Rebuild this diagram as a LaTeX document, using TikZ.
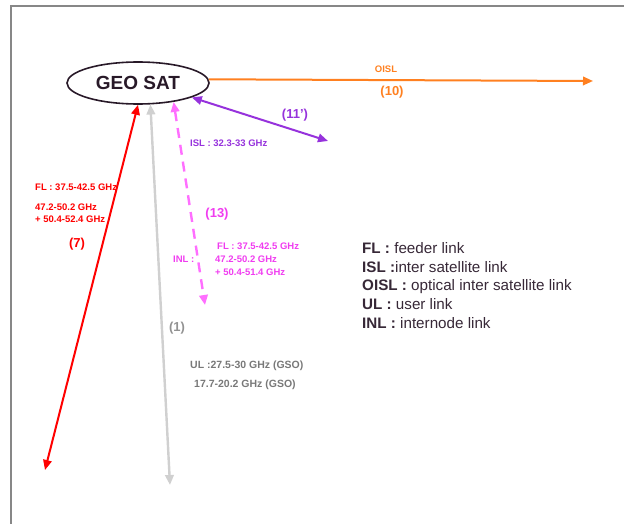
\documentclass[tikz,border=0pt]{standalone}
\usepackage{fontspec}
\setmainfont{Liberation Sans}
\usetikzlibrary{arrows.meta,positioning,shapes.geometric}
\definecolor{satdark}{RGB}{40,25,40}
\definecolor{legdark}{RGB}{55,40,55}
\definecolor{framegray}{RGB}{135,135,135}
\definecolor{oislorange}{RGB}{255,128,32}
\definecolor{islpurple}{RGB}{150,50,220}
\definecolor{inlmagenta}{RGB}{240,60,240}
\definecolor{inlline}{RGB}{255,110,255}
\definecolor{flred}{RGB}{255,0,0}
\definecolor{ulline}{RGB}{208,208,208}
\definecolor{ultext}{RGB}{120,120,120}

\begin{document}
\begin{tikzpicture}[x=1pt,y=-1pt,>={Triangle[length=10pt,width=8.5pt]},
    link/.style={line width=2pt},
    lbl/.style={font=\fontsize{9.5}{11}\selectfont\bfseries,inner sep=0pt,anchor=west},
    ullbl/.style={lbl,font=\fontsize{10.5}{12}\selectfont\bfseries,text=ultext},
    num/.style={font=\fontsize{13}{15}\selectfont\bfseries,inner sep=0pt},
    legend/.style={font=\fontsize{15.2}{17}\selectfont,text=legdark,anchor=base west,inner sep=0pt}]
   \useasboundingbox (0,0) rectangle (624,524);
   \draw[framegray,line width=2pt] (10.5,524) -- (10.5,6) -- (624,6);

   \node[ellipse,draw=satdark,line width=1.6pt,minimum width=142pt,minimum height=42pt,
         inner sep=0pt,text=satdark,font=\fontsize{19}{21}\selectfont\bfseries] (geo) at (138,83) {GEO SAT};

   \coordinate (oislend) at (593,81);
   \coordinate (islend)  at (328,141);
   \coordinate (flend)   at (45,470);
   \coordinate (ulend)   at (170,485);
   \coordinate (inlend)  at (205,305);

   % labels
   \node[lbl,text=oislorange,anchor=center] (oisltxt) at (386,69) {OISL};
   \node[num,text=oislorange] (oislnum) at (392,92) {(10)};
   \node[num,text=islpurple] (islnum) at (295,115) {(11’)};
   \node[lbl,text=islpurple] (isltxt) at (190,143) {ISL : 32.3-33 GHz};
   \node[lbl,text=flred] (fla) at (35,187) {FL : 37.5-42.5 GHz};
   \node[lbl,text=flred] (flb) at (35,207) {47.2-50.2 GHz};
   \node[lbl,text=flred] (flc) at (35,219) {+ 50.4-52.4 GHz};
   \node[num,text=flred] (flnum) at (77,244) {(7)};
   \node[num,text=ulline!70!black] (ulnum) at (177,328) {(1)};
   \node[ullbl] (ula) at (190,366) {UL :27.5-30 GHz (GSO)};
   \node[ullbl] (ulb) at (194,385) {17.7-20.2 GHz (GSO)};
   \node[num,text=inlmagenta] (inlnum) at (217,214) {(13)};
   \node[lbl,text=inlmagenta] (inltxt) at (173,259) {INL :};
   \node[lbl,text=inlmagenta] (inla) at (217,246) {FL : 37.5-42.5 GHz};
   \node[lbl,text=inlmagenta] (inlb) at (215,259) {47.2-50.2 GHz};
   \node[lbl,text=inlmagenta] (inlc) at (215,272) {+ 50.4-51.4 GHz};

   % links
   \path (geo.3) edge[link,oislorange,->] (oislend)
         (geo.-15) edge[link,islpurple,<->] (islend)
         (geo.south) edge[link,flred,<->] (flend)
         (geo.-60) edge[link,ulline,line width=2.4pt,<->] (ulend)
         (geo.-28) edge[link,inlline,line width=2.4pt,dash pattern=on 10pt off 7pt,<->] (inlend);

   % legend
   \node[legend] (legfl)   at (362,253.5) {\textbf{FL :} feeder link};
   \node[legend] (legisl)  at (362,272.2) {\textbf{ISL :}inter satellite link};
   \node[legend] (legoisl) at (362,290.9) {\textbf{OISL :} optical inter satellite link};
   \node[legend] (legul)   at (362,309.6) {\textbf{UL :} user link};
   \node[legend] (leginl)  at (362,328.3) {\textbf{INL :} internode link};
\end{tikzpicture}
\end{document}
